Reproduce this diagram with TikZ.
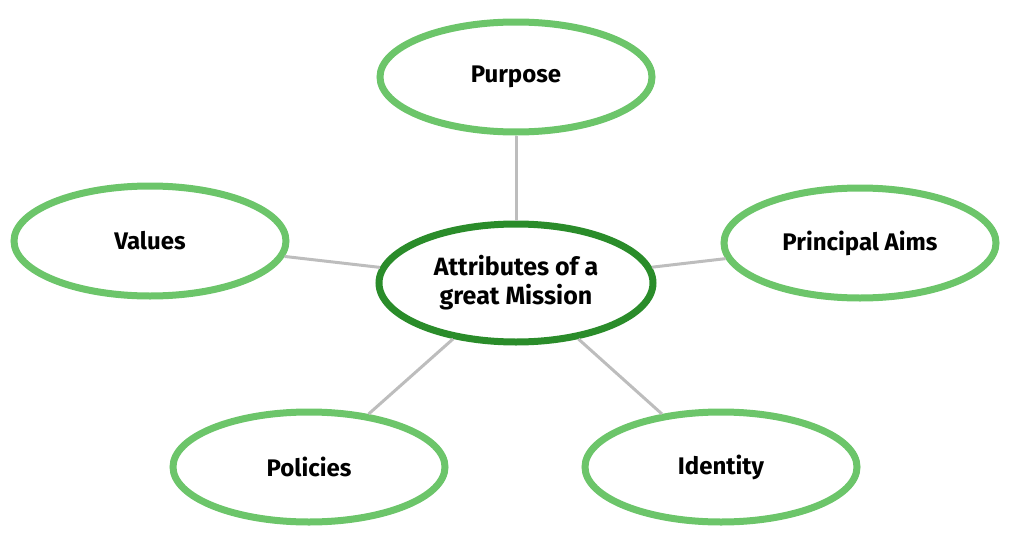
\documentclass[tikz,border=0pt]{standalone}
\usepackage{fontspec}
\setmainfont{Fira Sans}
\usetikzlibrary{shapes.geometric}
\definecolor{lg}{HTML}{6CC56A}
\definecolor{dg}{HTML}{2A8C2A}
\definecolor{cn}{HTML}{BDBDBD}
\tikzset{
  outer/.style={ellipse,draw=lg,line width=7pt,fill=white,minimum width=272pt,minimum height=110pt,inner sep=0pt,font=\fontsize{24}{28}\selectfont\bfseries,align=center},
  core/.style={ellipse,draw=dg,line width=7pt,fill=white,minimum width=274pt,minimum height=118pt,inner sep=0pt,font=\fontsize{25}{29}\selectfont\bfseries,align=center},
  conn/.style={draw=cn,line width=3pt}
}
\begin{document}
\begin{tikzpicture}[x=1pt,y=-1pt]
\useasboundingbox (0,0) rectangle (1018,546);
\node[core] (c) at (516,283) {Attributes of a\\great Mission};
\node[outer] (p) at (516,77) {Purpose};
\node[outer] (v) at (150,241) {Values};
\node[outer] (a) at (860,243) {Principal Aims};
\node[outer] (po) at (309,467) {Policies};
\node[outer] (id) at (721,467) {Identity};
\draw[conn] (c) -- (p);
\draw[conn] (c) -- (v);
\draw[conn] (c) -- (a);
\draw[conn] (c) -- (po);
\draw[conn] (c) -- (id);
\end{tikzpicture}
\end{document}
